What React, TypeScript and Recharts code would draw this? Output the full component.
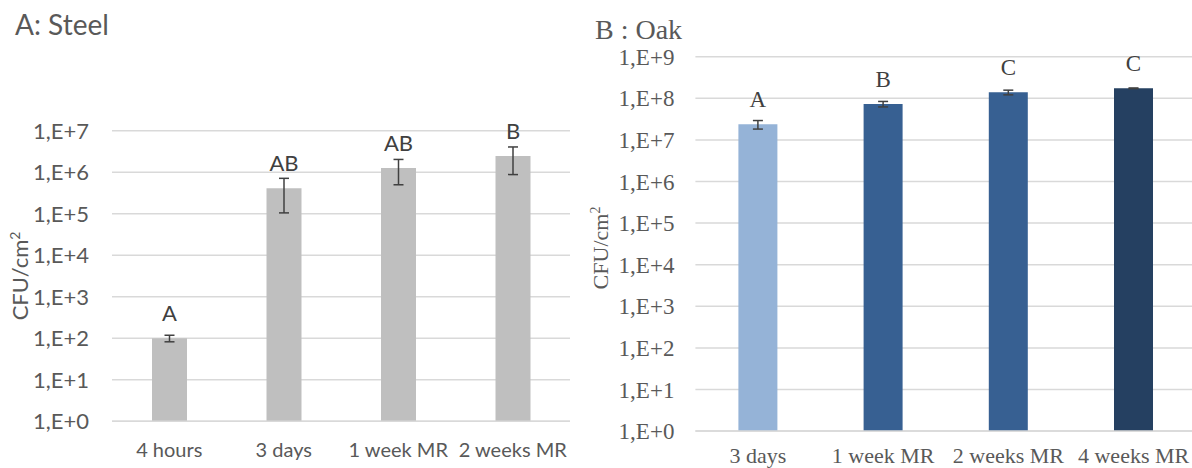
import React from 'react'
import { ComposedChart, Bar, Cell, ErrorBar, XAxis, YAxis, CartesianGrid, LabelList } from 'recharts'

const steelCats = ['4 hours', '3 days', '1 week MR', '2 weeks MR']
const steelMeans = [100, 410000, 1270000, 2480000]
const steelErr = [18, 305000, 770000, 1600000]
const steelLetters = ['A', 'AB', 'AB', 'B']
const steelTicks = [1, 10, 100, 1e3, 1e4, 1e5, 1e6, 1e7]

const oakCats = ['3 days', '1 week MR', '2 weeks MR', '4 weeks MR']
const oakMeans = [23700000, 73000000, 139000000, 174000000]
const oakErr = [5500000, 11000000, 18000000, 3000000]
const oakLetters = ['A', 'B', 'C', 'C']
const oakColors = ['#95b3d7', '#376092', '#376092', '#254061']
const oakTicks = [1, 10, 100, 1e3, 1e4, 1e5, 1e6, 1e7, 1e8, 1e9]

const SANS = 'Lato, "Open Sans", sans-serif'
const SERIF = '"Liberation Serif", serif'
const TXT = '#595959'
const GRID = '#d9d9d9'

const fmtExp = (v: number) => `1,E+${Math.round(Math.log10(v))}`

const steelData = steelCats.map((name, i) => ({
  name,
  value: steelMeans[i],
  err: steelErr[i],
  letter: steelLetters[i],
}))

const oakData = oakCats.map((name, i) => ({
  name,
  value: oakMeans[i],
  err: oakErr[i],
  letter: oakLetters[i],
}))

function letterLabel(font: string, size: number) {
  return (props: any) => {
    const { x, y, width, value } = props
    return (
      <text
        x={Number(x) + Number(width) / 2}
        y={Number(y) - 17}
        textAnchor="middle"
        fontFamily={font}
        fontSize={size}
        fill="#404040"
      >
        {value}
      </text>
    )
  }
}

export default function App() {
  return (
    <div
      style={{
        position: 'absolute',
        left: 0,
        top: 0,
        width: 1192,
        height: 468,
        overflow: 'hidden',
        background: '#fff',
      }}
    >
      {/* A: Steel */}
      <div style={{ position: 'absolute', left: 0, top: 0 }}>
        <ComposedChart
          width={600}
          height={468}
          data={steelData}
          margin={{ top: 130.8, right: 30, bottom: 16.8, left: 0 }}
        >
          <CartesianGrid vertical={false} stroke={GRID} strokeWidth={1.5} />
          <XAxis
            dataKey="name"
            height={30}
            axisLine={{ stroke: GRID, strokeWidth: 1.5 }}
            tickLine={false}
            tickSize={0}
            tickMargin={22}
            tick={{ fill: TXT, fontFamily: SANS, fontSize: 20 }}
            interval={0}
          />
          <YAxis
            scale="log"
            domain={[1, 1e7]}
            ticks={steelTicks}
            allowDataOverflow
            width={112}
            axisLine={false}
            tickLine={false}
            tickSize={0}
            tickMargin={23}
            tickFormatter={fmtExp}
            tick={{ fill: TXT, fontFamily: SANS, fontSize: 22 }}
            interval={0}
          />
          <Bar dataKey="value" fill="#bfbfbf" barSize={35} isAnimationActive={false}>
            <ErrorBar dataKey="err" width={5} stroke="#404040" strokeWidth={1.5} direction="y" />
            <LabelList dataKey="letter" content={letterLabel(SANS, 22)} />
          </Bar>
        </ComposedChart>
      </div>

      {/* B : Oak */}
      <div style={{ position: 'absolute', left: 600, top: 0 }}>
        <ComposedChart
          width={600}
          height={468}
          data={oakData}
          margin={{ top: 56.7, right: 3.8, bottom: 6.9, left: 0 }}
        >
          <CartesianGrid vertical={false} stroke={GRID} strokeWidth={1.5} />
          <XAxis
            dataKey="name"
            height={30}
            axisLine={{ stroke: GRID, strokeWidth: 1.5 }}
            tickLine={false}
            tickSize={0}
            tickMargin={16}
            tick={{ fill: TXT, fontFamily: SERIF, fontSize: 22 }}
            interval={0}
          />
          <YAxis
            scale="log"
            domain={[1, 1e9]}
            ticks={oakTicks}
            allowDataOverflow
            width={95.4}
            axisLine={false}
            tickLine={false}
            tickSize={0}
            tickMargin={21}
            tickFormatter={fmtExp}
            tick={{ fill: TXT, fontFamily: SERIF, fontSize: 23 }}
            interval={0}
          />
          <Bar dataKey="value" barSize={39} isAnimationActive={false}>
            {oakData.map((d, i) => (
              <Cell key={d.name} fill={oakColors[i]} />
            ))}
            <ErrorBar dataKey="err" width={5} stroke="#404040" strokeWidth={1.5} direction="y" />
            <LabelList dataKey="letter" content={letterLabel(SERIF, 23)} />
          </Bar>
        </ComposedChart>
      </div>

      {/* titles and axis titles */}
      <svg
        width={1192}
        height={468}
        style={{ position: 'absolute', left: 0, top: 0, pointerEvents: 'none' }}
      >
        <text x={15} y={35} fontFamily={SANS} fontSize={28} fill={TXT}>
          A: Steel
        </text>
        <text
          transform="translate(28,276) rotate(-90)"
          textAnchor="middle"
          fontFamily={SANS}
          fontSize={22}
          fill={TXT}
        >
          CFU/cm<tspan dy={-8} fontSize={14}>2</tspan>
        </text>
        <text x={595} y={39} fontFamily={SERIF} fontSize={28} fill={TXT}>
          B : Oak
        </text>
        <text
          transform="translate(608,248) rotate(-90)"
          textAnchor="middle"
          fontFamily={SERIF}
          fontSize={22}
          fill={TXT}
        >
          CFU/cm<tspan dy={-8} fontSize={14}>2</tspan>
        </text>
      </svg>
    </div>
  )
}
